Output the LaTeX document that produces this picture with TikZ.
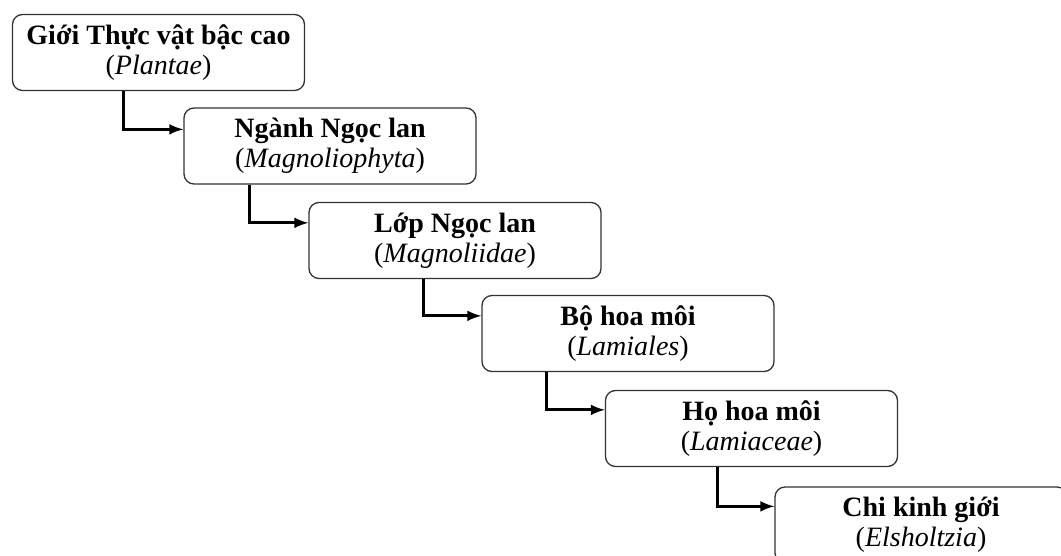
\documentclass[tikz,border=0pt]{standalone}
\usepackage{fontspec}
\setmainfont{Liberation Serif}
\usetikzlibrary{arrows}
\tikzset{
  taxon/.style={draw=black!80, line width=0.65pt, rounded corners=5pt,
    minimum width=146pt, minimum height=38pt, inner sep=0pt,
    align=center, font=\fontsize{14}{15}\selectfont},
  link/.style={-latex, line width=1.4pt}
}
\begin{document}
\begin{tikzpicture}[x=0.5pt,y=-0.5pt]
  \useasboundingbox (0,0) rectangle (1061,556);
  % ranks
  \node[taxon] (gioi) at (158.5,52.5) {\textbf{Giới Thực vật bậc cao}\\(\textit{Plantae})};
  \node[taxon] (nganh) at (330,146) {\textbf{Ngành Ngọc lan}\\(\textit{Magnoliophyta})};
  \node[taxon] (lop) at (455,240.5) {\textbf{Lớp Ngọc lan}\\(\textit{Magnoliidae})};
  \node[taxon] (bo) at (628,333.5) {\textbf{Bộ hoa môi}\\(\textit{Lamiales})};
  \node[taxon] (ho) at (751.5,428.5) {\textbf{Họ hoa môi}\\(\textit{Lamiaceae})};
  \node[taxon] (chi) at (921,525) {\textbf{Chi kinh giới}\\(\textit{Elsholtzia})};
  % links
  \draw[link] ([xshift=56pt]gioi.south west) |- ([yshift=-11pt]nganh.north west);
  \draw[link] ([xshift=33pt]nganh.south west) |- ([yshift=-10.5pt]lop.north west);
  \draw[link] ([xshift=57.5pt]lop.south west) |- ([yshift=-10.5pt]bo.north west);
  \draw[link] ([xshift=32.5pt]bo.south west) |- ([yshift=-10pt]ho.north west);
  \draw[link] ([xshift=56.5pt]ho.south west) |- ([yshift=-10pt]chi.north west);
\end{tikzpicture}
\end{document}
